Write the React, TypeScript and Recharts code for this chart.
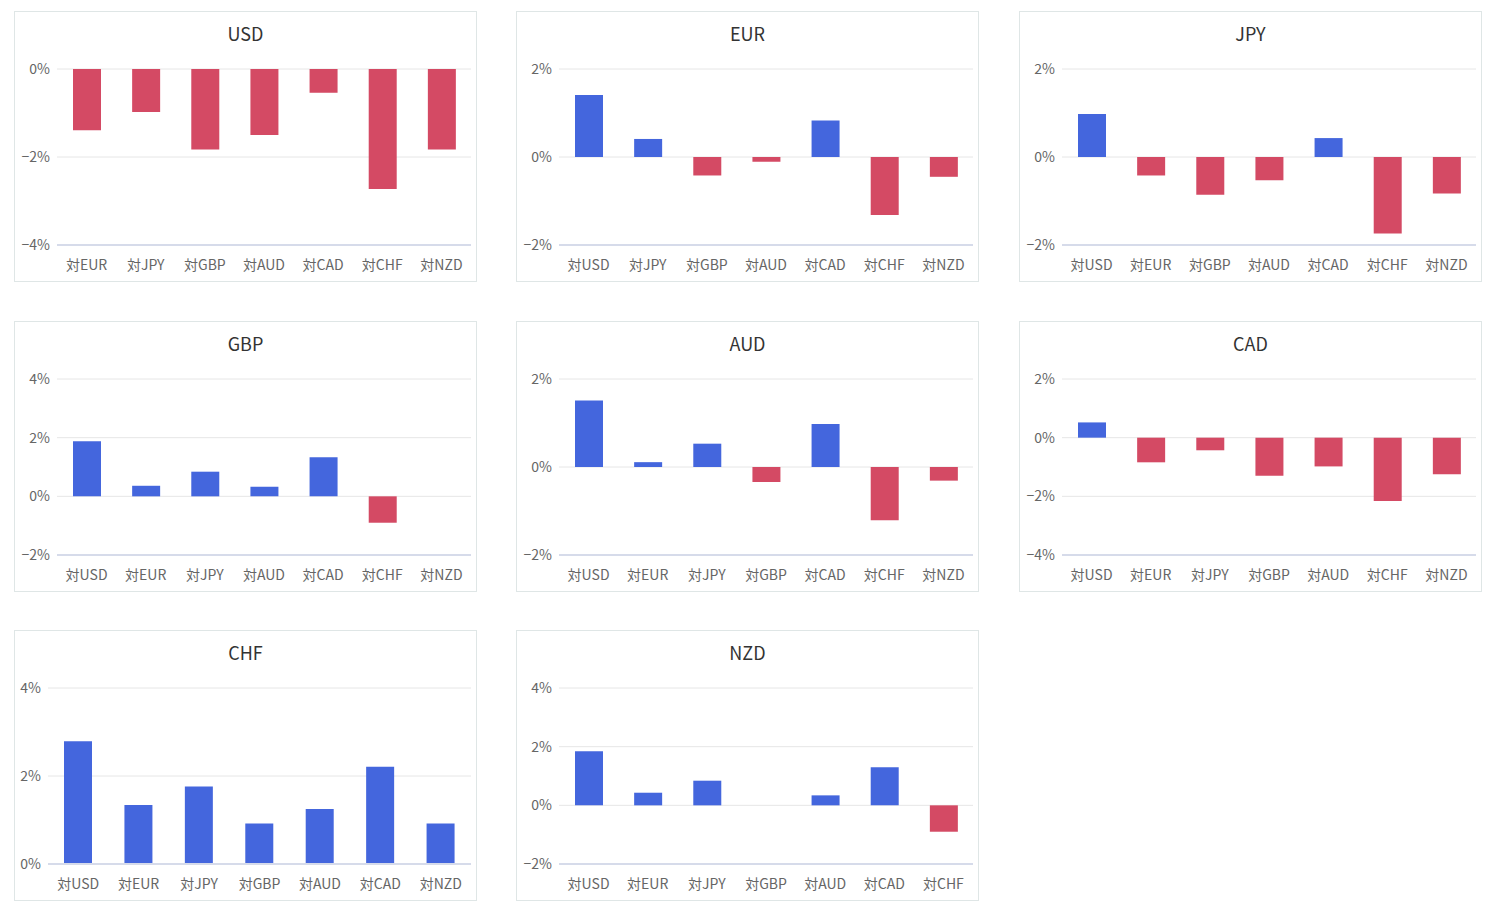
import React from 'react';
import { BarChart, Bar, XAxis, YAxis, CartesianGrid, Cell } from 'recharts';

const usdCats = ['対EUR', '対JPY', '対GBP', '対AUD', '対CAD', '対CHF', '対NZD'];
const usdVals = [-1.39, -0.98, -1.83, -1.5, -0.54, -2.73, -1.83];

const eurCats = ['対USD', '対JPY', '対GBP', '対AUD', '対CAD', '対CHF', '対NZD'];
const eurVals = [1.41, 0.41, -0.42, -0.11, 0.83, -1.32, -0.45];

const jpyCats = ['対USD', '対EUR', '対GBP', '対AUD', '対CAD', '対CHF', '対NZD'];
const jpyVals = [0.98, -0.42, -0.86, -0.53, 0.43, -1.74, -0.83];

const gbpCats = ['対USD', '対EUR', '対JPY', '対AUD', '対CAD', '対CHF', '対NZD'];
const gbpVals = [1.88, 0.36, 0.84, 0.33, 1.33, -0.9, 0];

const audCats = ['対USD', '対EUR', '対JPY', '対GBP', '対CAD', '対CHF', '対NZD'];
const audVals = [1.51, 0.11, 0.53, -0.34, 0.98, -1.21, -0.31];

const cadCats = ['対USD', '対EUR', '対JPY', '対GBP', '対AUD', '対CHF', '対NZD'];
const cadVals = [0.52, -0.84, -0.43, -1.3, -0.98, -2.16, -1.25];

const chfCats = ['対USD', '対EUR', '対JPY', '対GBP', '対AUD', '対CAD', '対NZD'];
const chfVals = [2.79, 1.34, 1.76, 0.92, 1.25, 2.21, 0.92];

const nzdCats = ['対USD', '対EUR', '対JPY', '対GBP', '対AUD', '対CAD', '対CHF'];
const nzdVals = [1.84, 0.43, 0.84, 0, 0.34, 1.3, -0.9];

const panels = [
  { title: 'USD', cats: usdCats, vals: usdVals, ticks: [-4, -2, 0] },
  { title: 'EUR', cats: eurCats, vals: eurVals, ticks: [-2, 0, 2] },
  { title: 'JPY', cats: jpyCats, vals: jpyVals, ticks: [-2, 0, 2] },
  { title: 'GBP', cats: gbpCats, vals: gbpVals, ticks: [-2, 0, 2, 4] },
  { title: 'AUD', cats: audCats, vals: audVals, ticks: [-2, 0, 2] },
  { title: 'CAD', cats: cadCats, vals: cadVals, ticks: [-4, -2, 0, 2] },
  { title: 'CHF', cats: chfCats, vals: chfVals, ticks: [0, 2, 4] },
  { title: 'NZD', cats: nzdCats, vals: nzdVals, ticks: [-2, 0, 2, 4] },
];

const BLUE = '#4466dd';
const RED = '#d44a64';
const FONT = '"Noto Sans CJK JP", "Noto Sans", sans-serif';
const COLS = [0, 502, 1005];
const ROWS = [0, 310, 619];

const fmt = (v: number) => (v < 0 ? `\u2212${Math.abs(v)}%` : `${v}%`);

const Panel = ({ title, cats, vals, ticks }: any) => {
  const data = cats.map((c: string, i: number) => ({ name: c, value: vals[i] }));
  const hasNeg = ticks[0] < 0;
  return (
    <div
      style={{
        position: 'relative',
        width: 461,
        height: 269,
        border: '1px solid #dfe6e6',
        background: '#fff',
      }}
    >
      <div
        style={{
          position: 'absolute',
          top: 10,
          left: 0,
          width: '100%',
          textAlign: 'center',
          fontSize: 18,
          color: '#333',
          fontFamily: FONT,
          lineHeight: '22px',
        }}
      >
        {title}
      </div>
      <BarChart
        width={461}
        height={268}
        data={data}
        margin={{ top: 57, right: 5, bottom: 5, left: 0 }}
        style={{ fontFamily: FONT }}
      >
        <CartesianGrid vertical={false} stroke="#e6e6e6" />
        <XAxis
          dataKey="name"
          interval={0}
          tickLine={false}
          axisLine={{ stroke: '#d6dbea', strokeWidth: 2 }}
          tick={{ fill: '#666', fontSize: 14 }}
          tickMargin={9}
          height={30}
        />
        <YAxis
          type="number"
          domain={[ticks[0], ticks[ticks.length - 1]]}
          ticks={ticks}
          tickFormatter={fmt}
          width={hasNeg ? 42 : 33}
          axisLine={false}
          tickLine={false}
          tickSize={0}
          tickMargin={7}
          tick={{ fill: '#666', fontSize: 14 }}
        />
        <Bar dataKey="value" barSize={28} isAnimationActive={false}>
          {data.map((d: any, i: number) => (
            <Cell key={`c-${i}`} fill={d.value >= 0 ? BLUE : RED} />
          ))}
        </Bar>
      </BarChart>
    </div>
  );
};

export default function App() {
  return (
    <div style={{ position: 'relative', width: 1480, height: 900 }}>
      {panels.map((p, i) => (
        <div
          key={p.title}
          style={{ position: 'absolute', left: 6 + COLS[i % 3], top: 3 + ROWS[Math.floor(i / 3)] }}
        >
          <Panel {...p} />
        </div>
      ))}
    </div>
  );
}
